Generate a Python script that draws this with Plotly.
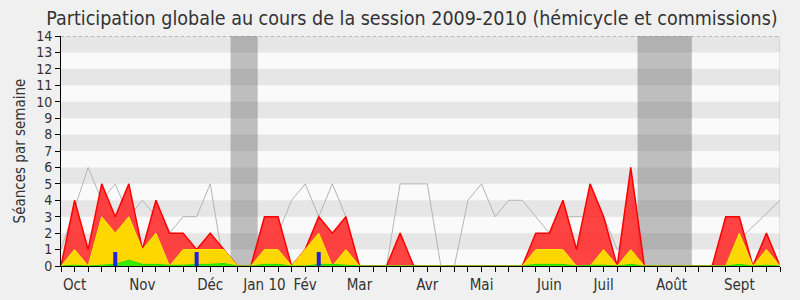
import plotly.graph_objects as go

weeks = list(range(54))
presence = [0,4,1,5,3,5,1,4,2,2,1,2,1,0,0,3,3,0,1,3,2,3,0,0,0,2,0,0,0,0,0,0,0,0,0,
            2,2,4,1,5,3,0,6,0,0,0,0,0,0,3,3,0,2,0]
hemicycle = [0,1,0,3,2,3,1,2,0,1,1,1,1,0,0,1,1,0,1,2,0,1,0,0,0,0,0,0,0,0,0,0,0,0,0,
             1,1,1,0,0,1,0,1,0,0,0,0,0,0,0,2,0,1,0]
interventions = [0,0.05,0,0.05,0.1,0.35,0.1,0.1,0.05,0.05,0.1,0.1,0.15,0,0,0.1,0.1,0,0,0.1,0.1,0.05,0,0,0,0,0,0,0,0,0,0,0,0,0,
                 0.1,0.1,0.1,0,0.05,0.05,0,0.1,0,0,0,0,0,0,0,0.1,0,0.05,0]
questions_weeks = [4, 10, 19]
questions_vals = [0.85, 0.85, 0.85]
mediane = [1,3.5,6,4,5,3,4,3,2,3,3,5,0,0,0,1,2,4,5,3,5,3,0,0,0,5,5,5,0,0,4,5,3,4,4,
           3,2,3,3,3,3,1,2,0,0,0,0,0,0,0.8,1.6,2.4,3.2,4]
vacances = [(12.5, 14.5), (42.5, 46.5)]
month_labels = ["Oct", "Nov", "Déc", "Jan 10", "Fév", "Mar", "Avr", "Mai", "Juin", "Juil", "Août", "Sept"]
month_weeks = [1, 6, 11, 15, 18, 22, 27, 31, 36, 40, 45, 50]
title = "Participation globale au cours de la session 2009-2010 (hémicycle et commissions)"
ytitle = "Séances par semaine"

FONT = "DejaVu Sans Condensed, Liberation Sans Narrow, DejaVu Sans"

fig = go.Figure()

shapes = []
for k in range(1, 14, 2):
    shapes.append(dict(type="rect", xref="x", yref="y", x0=0, x1=53, y0=k, y1=k + 1,
                       fillcolor="#e6e6e6", line=dict(width=0), layer="below"))
for a, b in vacances:
    shapes.append(dict(type="rect", xref="x", yref="y", x0=a, x1=b, y0=0, y1=14,
                       fillcolor="rgba(70,70,70,0.33)", line=dict(width=0), layer="below"))
shapes.append(dict(type="line", xref="x", yref="y", x0=0, x1=53, y0=14, y1=14,
                   line=dict(color="#888", width=1, dash="dot")))
shapes.append(dict(type="line", xref="x", yref="y", x0=53, x1=53, y0=0, y1=14,
                   line=dict(color="#c8c8c8", width=1)))

fig.add_trace(go.Scatter(x=weeks, y=mediane, mode="lines",
                         line=dict(color="#b4b4b4", width=1), hoverinfo="skip"))
fig.add_trace(go.Scatter(x=weeks, y=presence, mode="lines", fill="tozeroy",
                         fillcolor="rgba(255,45,45,0.9)", line=dict(color="#ff0000", width=1.5)))
fig.add_trace(go.Scatter(x=weeks, y=hemicycle, mode="lines", fill="tozeroy",
                         fillcolor="#ffd700", line=dict(color="#ffee00", width=1)))
fig.add_trace(go.Scatter(x=weeks, y=interventions, mode="lines", fill="tozeroy",
                         fillcolor="#33ee00", line=dict(color="#22dd00", width=1)))

qx, qy = [], []
for w, v in zip(questions_weeks, questions_vals):
    qx += [w, w, None]
    qy += [0, v, None]
fig.add_trace(go.Scatter(x=qx, y=qy, mode="lines",
                         line=dict(color="#2222dd", width=4), hoverinfo="skip"))

ticktext = []
for w in weeks:
    ticktext.append(month_labels[month_weeks.index(w)] if w in month_weeks else "")

fig.update_layout(
    width=800, height=300,
    margin=dict(l=61, r=20, t=36, b=34),
    paper_bgcolor="#f0f0f0", plot_bgcolor="#fafafa",
    showlegend=False,
    shapes=shapes,
    title=dict(text=title, x=0.515, xanchor="center", y=0.94, yanchor="middle",
               font=dict(family=FONT, size=19.5, color="#333")),
    font=dict(family=FONT, color="#333"),
    xaxis=dict(range=[0, 53], tickmode="array", tickvals=weeks, ticktext=ticktext,
               ticks="outside", ticklen=5, tickcolor="#000", showline=True, linecolor="#000",
               linewidth=1, showgrid=False, zeroline=False, tickfont=dict(size=15, color="#333"),
               automargin=False, fixedrange=True),
    yaxis=dict(range=[0, 14], tickmode="array", tickvals=list(range(15)),
               ticks="outside", ticklen=5, tickcolor="#000", showline=True, linecolor="#000",
               linewidth=1, showgrid=False, zeroline=False, tickfont=dict(size=14, color="#333"),
               automargin=False,
               title=dict(text=ytitle, font=dict(size=15, color="#333"), standoff=6)),
)

fig.write_html("out.html")
